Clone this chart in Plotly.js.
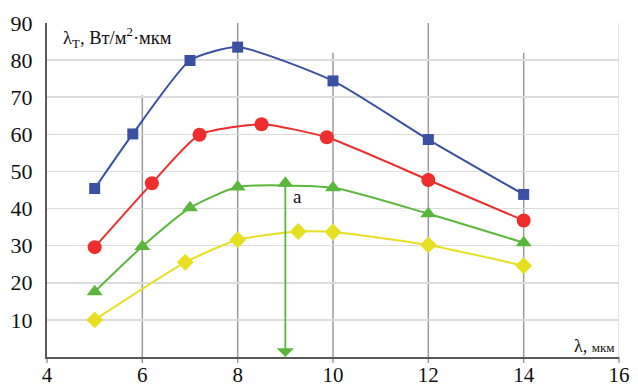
<!DOCTYPE html>
<html>
<head>
<meta charset="utf-8">
<script src="https://cdn.plot.ly/plotly-3.0.1.min.js"></script>
<style>html,body{margin:0;padding:0;background:#fff}#chart{width:638px;height:387px}</style>
</head>
<body>
<div id="chart"></div>
<script>
// Data
const blueX = [5, 5.8, 7, 8, 10, 12, 14];
const blueY = [45.4, 60.1, 79.9, 83.5, 74.4, 58.6, 43.8];
const redX = [5, 6.2, 7.2, 8.5, 9.87, 12, 14];
const redY = [29.6, 46.8, 59.9, 62.7, 59.2, 47.7, 36.8];
const greenX = [5, 6, 7, 8, 10, 12, 14];
const greenY = [17.6, 29.8, 40.2, 45.8, 45.6, 38.6, 30.8];
const yellowX = [5, 6.9, 8, 9.27, 10, 12, 14];
const yellowY = [10, 25.5, 31.6, 33.8, 33.7, 30.2, 24.6];
const arrowX = 9;
const arrowTop = 46.8;
const arrowLabel = 'a';
const xTicks = [4, 6, 8, 10, 12, 14, 16];
const yTicks = [10, 20, 30, 40, 50, 60, 70, 80, 90];
const vGridX = [6, 8, 10, 12, 14];
const vGridTop = [70.5, 90, 82, 90, 82];
const yTitle = 'λ<sub>Т</sub>, Вт/м<sup>2</sup>·мкм';
const xTitle = 'λ, <span style="font-size:13px">мкм</span>';

const serif = "'Liberation Serif', 'Times New Roman', serif";
const colors = {blue: '#3a51a3', red: '#ee2e2c', green: '#5bb73c', yellow: '#e6df22'};

function series(x, y, color, symbol, size) {
  return {
    x: x, y: y, type: 'scatter', mode: 'lines+markers',
    line: {color: color, width: 2, shape: 'spline', smoothing: 0.55},
    marker: {color: color, symbol: symbol, size: size},
    hoverinfo: 'skip', showlegend: false, cliponaxis: false
  };
}

const traces = [
  series(blueX, blueY, colors.blue, 'square', 11),
  series(redX, redY, colors.red, 'circle', 14),
  series(greenX, greenY, colors.green, 'triangle-up', 14),
  series(yellowX, yellowY, colors.yellow, 'diamond', 13),
  {x: [arrowX], y: [arrowTop], type: 'scatter', mode: 'markers',
   marker: {color: colors.green, symbol: 'triangle-up', size: 14},
   hoverinfo: 'skip', showlegend: false, cliponaxis: false}
];

const xMin = 4, xMax = 16;
const shapes = vGridX.map((x, i) => ({
  type: 'line', xref: 'x', yref: 'y', x0: x, x1: x, y0: 0, y1: vGridTop[i],
  line: {color: '#9a9a9a', width: 1.5}, layer: 'below'
}));
shapes.push({type: 'line', xref: 'x', yref: 'y', x0: 16, x1: 16, y0: 0, y1: 90,
  line: {color: '#dcdcdc', width: 1.5}, layer: 'below'});
// small tick marks below the x axis (paper coordinates so they are not clipped)
xTicks.forEach(t => {
  const px = (t - xMin) / (xMax - xMin);
  shapes.push({type: 'line', xref: 'paper', yref: 'paper', x0: px, x1: px, y0: 0, y1: -0.018,
    line: {color: '#9a9a9a', width: 1.5}, layer: 'below'});
});

const layout = {
  width: 638, height: 387,
  margin: {l: 47, r: 19, t: 23, b: 30, pad: 0},
  paper_bgcolor: '#fff', plot_bgcolor: '#fff',
  showlegend: false,
  font: {family: serif, color: '#111'},
  xaxis: {
    range: [xMin, xMax], tickvals: xTicks, ticktext: xTicks.map(String),
    showgrid: false, zeroline: false,
    showline: true, linecolor: '#5a5a5a', linewidth: 2,
    ticks: '', ticklabelstandoff: -2,
    tickfont: {family: serif, size: 21, color: '#111'},
    fixedrange: true
  },
  yaxis: {
    range: [0, 90], tickvals: yTicks, ticktext: yTicks.map(String),
    showgrid: true, gridcolor: '#dcdcdc', gridwidth: 1.5,
    zeroline: false,
    showline: true, linecolor: '#5a5a5a', linewidth: 2,
    ticks: '', ticklabelstandoff: 8,
    tickfont: {family: serif, size: 22, color: '#111'},
    fixedrange: true
  },
  shapes: shapes,
  annotations: [
    {x: arrowX, y: 0, ax: arrowX, ay: arrowTop, xref: 'x', yref: 'y', axref: 'x', ayref: 'y',
     text: '', showarrow: true, arrowhead: 1, arrowsize: 1.6, arrowwidth: 1.8, arrowcolor: colors.green, standoff: 0},
    {x: arrowX + 0.12, y: arrowTop - 3.5, xref: 'x', yref: 'y', text: arrowLabel, showarrow: false,
     xanchor: 'left', yanchor: 'middle', font: {family: serif, size: 19, color: '#111'}},
    {x: 61, y: 38, xref: 'paper', yref: 'paper', text: yTitle, showarrow: false,
     xanchor: 'left', yanchor: 'middle', font: {family: serif, size: 18.5, color: '#111'}},
    {x: 617, y: 346, xref: 'paper', yref: 'paper', text: xTitle, showarrow: false,
     xanchor: 'right', yanchor: 'middle', font: {family: serif, size: 18, color: '#111'}}
  ]
};

// convert pixel positions of the two title annotations to paper coordinates
const pw = 638 - 47 - 19, ph = 387 - 23 - 30;
[2, 3].forEach(i => {
  const a = layout.annotations[i];
  a.x = (a.x - 47) / pw;
  a.y = (387 - 30 - a.y) / ph;
});

Plotly.newPlot('chart', traces, layout, {displayModeBar: false, staticPlot: true});
</script>
</body>
</html>
